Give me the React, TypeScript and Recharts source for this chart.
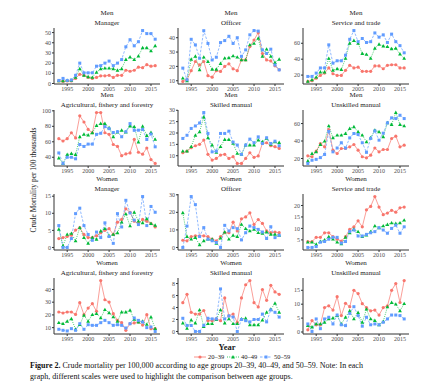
import React from "react";
import { LineChart, Line, XAxis, YAxis } from "recharts";

const years = [
  1993, 1994, 1995, 1996, 1997, 1998, 1999, 2000, 2001, 2002, 2003, 2004,
  2005, 2006, 2007, 2008, 2009, 2010, 2011, 2012, 2013, 2014, 2015, 2016,
];
const yearTicks = [1995, 2000, 2005, 2010, 2015];

// Men
const menManagerA = [2.5, 2, 2.5, 2.5, 5, 9, 8, 6, 5, 6, 7.5, 7.5, 8, 6, 8, 8, 13, 12, 13, 16, 15.5, 18.5, 17, 17.5];
const menManagerB = [2.5, 2.5, 3, 3, 6, 14.5, 8, 6.5, 6, 11, 14.5, 15, 15, 14.5, 13, 14.5, 23.5, 26, 23.5, 27, 35, 35, 32, 37];
const menManagerC = [3, 5, 3, 3.5, 8, 20, 10.5, 10.5, 10.5, 17, 17.5, 20, 22, 17.5, 20, 23.5, 36, 43, 37, 41, 52, 49, 49, 43.5];
const menManagerTicks = [0, 10, 20, 30, 40, 50];

const menOfficerA = [9.5, 10.7, 17, 23.4, 21, 23.4, 13.5, 12.5, 17, 16.5, 20, 21.8, 18.3, 17, 24.5, 24.5, 33.8, 38.4, 43.5, 29, 24.5, 23.8, 20.4, 17.6];
const menOfficerB = [11.8, 10, 25, 27, 17.6, 26.4, 23.4, 18, 18, 22, 25.7, 26, 27.3, 26.4, 24.5, 24.5, 35, 36, 39.6, 27, 32, 27, 22.7, 25];
const menOfficerC = [18.8, 10.7, 38.9, 35, 25.7, 44.9, 36, 24.5, 26.4, 36.6, 38, 41, 36, 40, 27, 31.5, 42, 45, 44.6, 31.5, 29, 32, 21, 17.6];
const menOfficerTicks = [10, 20, 30, 40];

const menServiceA = [12, 13, 16, 19.6, 22.5, 29, 21.7, 19.6, 19.6, 26, 32.3, 29, 30, 24.7, 24.7, 24.7, 31.5, 31.5, 28, 32.3, 33, 33, 29, 29];
const menServiceB = [12, 14, 17.4, 23.8, 23.8, 41, 26, 28, 27, 41, 60, 63.4, 60, 47, 46, 41, 53.6, 58.7, 56.6, 55.7, 53, 53.6, 46.4, 41];
const menServiceC = [18.3, 18.3, 22.5, 29, 29, 58, 35, 38, 38, 45, 65, 76, 62, 66, 61, 62, 73, 67.7, 70.6, 61, 71.5, 62, 57, 48];
const menServiceTicks = [20, 40, 60];

const menAgriA = [64, 61, 64, 71.7, 65, 93.5, 85.6, 76, 71.7, 97.8, 97.8, 71.7, 69.6, 56.5, 54, 42, 44.3, 45.6, 63, 46.5, 44, 52, 37, 32];
const menAgriB = [39, 32, 43.5, 44.8, 43.5, 66.5, 69.6, 68.7, 71.7, 81, 83.5, 83.5, 78, 66.5, 72.6, 74.8, 72.6, 80.4, 79.6, 59.6, 80, 68, 72, 63];
const menAgriC = [45.6, 32, 40, 40, 38, 56.5, 54, 57, 57, 69.6, 71, 79.6, 77, 72, 73, 66.5, 73, 83.5, 74.8, 75, 76, 63, 70, 53.5];
const menAgriTicks = [40, 60, 80, 100];

const menSkilledA = [11.3, 12, 13.5, 14.4, 15, 16.9, 10.6, 8.1, 8.8, 10.3, 10.6, 8.8, 9.6, 6.6, 6.6, 8.8, 11.3, 9.3, 9.9, 15.4, 15.7, 14.4, 14, 13.2];
const menSkilledB = [12, 12, 14, 19, 20.5, 27, 17.9, 14.7, 11.5, 14, 17.1, 17.1, 15.4, 11, 10.6, 14.7, 14.7, 14.7, 16.9, 16.1, 17.6, 15, 16.1, 15.8];
const menSkilledC = [17.6, 19, 22, 23.1, 24.4, 29, 19.8, 11.7, 12, 19.8, 19.8, 20.8, 16, 14.7, 10.6, 14.7, 17.3, 15.7, 18.3, 15.4, 17.9, 15.4, 16.4, 14.4];
const menSkilledTicks = [10, 15, 20, 25, 30];

const menUnskilledA = [23, 22, 28.4, 37, 33.3, 53, 29.5, 25.7, 31.4, 31.4, 33.3, 36, 29.5, 22, 20.8, 23.8, 32, 27.6, 30.3, 30.3, 42.9, 45.5, 33.3, 35.2];
const menUnskilledB = [17, 25.7, 27.6, 36, 39.8, 57.3, 43.6, 46.7, 46.7, 48.6, 54.3, 56.2, 50.5, 46.7, 39, 43.6, 52.4, 50.5, 44.8, 60.8, 58.9, 72.6, 58.9, 57.3];
const menUnskilledC = [14.3, 18, 19, 21, 24.6, 51, 27.6, 32, 38, 32, 43.6, 48.6, 47.4, 38, 27, 43, 51.6, 41, 49, 60.8, 66.5, 65.7, 69.5, 65.7];
const menUnskilledTicks = [20, 40, 60];

// Women
const womenManagerA = [2.6, 2.9, 3.2, 3.6, 5.1, 5.8, 3.8, 2.9, 2.9, 3.4, 4.3, 5, 5.5, 3.8, 7.4, 8.2, 11.3, 10.3, 7.7, 7, 8.2, 7.7, 7, 6];
const womenManagerB = [5.3, 0.5, 3.8, 4.1, 1.9, 5.8, 2.9, 1.2, 2.9, 2.4, 4.8, 5.5, 3.4, 3.8, 4.3, 7.4, 9.8, 6.3, 10.3, 7.7, 7.2, 8.4, 7, 6.5];
const womenManagerC = [6.4, 0, 0, 2.6, 9.9, 11.5, 6.4, 3.8, 2.1, 4.5, 2.9, 7.2, 3.2, 1.2, 9.9, 6, 13.8, 10.1, 8, 6.7, 14.9, 6.4, 12, 10.3];
const womenManagerTicks = [0, 5, 10, 15];

const womenOfficerA = [4.1, 3.8, 6.2, 6.6, 6.6, 6.6, 6.2, 4.7, 3.8, 6.2, 8.4, 8.4, 14.4, 9.4, 16.3, 17.4, 19.7, 13.1, 15.9, 13.7, 9.4, 8.4, 8.8, 8.4];
const womenOfficerB = [19.7, 6.2, 4.7, 5.6, 1.5, 3.8, 4.7, 4.7, 2.4, 5.3, 8.8, 4.7, 6.9, 6.2, 13.1, 10.7, 9.4, 10.3, 8.4, 8.1, 8.8, 7.5, 7.5, 6.9];
const womenOfficerC = [0, 12.2, 29, 24.4, 6.2, 11.3, 4.7, 3.8, 2.8, 0, 12.6, 9.4, 11.3, 10.7, 4.3, 8.4, 12.2, 11.3, 10.3, 8.8, 5.1, 11.8, 5.6, 6.9];
const womenOfficerTicks = [0, 10, 20, 30];

const womenServiceA = [4.3, 4.3, 6.1, 6.1, 8.1, 8.1, 6.4, 5.3, 4.5, 6.4, 9.6, 10.7, 13.3, 10.7, 18.1, 19.6, 23.9, 19.3, 16, 16.7, 17.9, 17.1, 19, 19.3];
const womenServiceB = [4, 4, 3.1, 4.3, 5, 6.4, 5.3, 4, 3.3, 6.1, 8.1, 9.6, 8.6, 6.4, 7.1, 8.6, 11.1, 10.3, 11.1, 11.7, 12.4, 12.1, 12.4, 13.6];
const womenServiceC = [1.7, 1.7, 2.1, 4, 4.3, 5.3, 6.1, 6.1, 3.6, 4.3, 8.6, 9.3, 6.7, 6.7, 7.4, 8.1, 8.6, 10.3, 9.3, 7.9, 10, 11.4, 7.9, 10.7];
const womenServiceTicks = [5, 10, 15, 20];

const womenAgriA = [22.3, 21.5, 22.3, 22.3, 20.4, 29.6, 20.2, 25.4, 28.8, 22.8, 47, 31.9, 30.1, 21, 15.7, 13.9, 7.9, 13.1, 13.7, 14.4, 12, 20.2, 9.2, 9.2];
const womenAgriB = [13.9, 13.1, 15, 17, 8.7, 12.3, 19.7, 15, 20.2, 21, 17.6, 24.1, 21.7, 18.4, 15, 22.3, 22.3, 23.6, 16.5, 14.4, 15, 12.5, 18.3, 9.2];
const womenAgriC = [8.7, 7.9, 7.4, 9.2, 7.9, 13.1, 8.7, 12.3, 11.8, 11.8, 13.9, 15.7, 13.9, 11.8, 12.3, 11.8, 9.7, 13.1, 17.6, 15.7, 14.4, 10, 10.5, 7];
const womenAgriTicks = [10, 20, 30, 40];

const womenSkilledA = [4.8, 6.2, 3.2, 2.9, 2.9, 3.5, 1.8, 1.8, 2.1, 1.8, 5.6, 2.6, 2.9, 1.5, 5.6, 7.8, 8.5, 4.8, 4.1, 7, 5.2, 7.7, 6.6, 6.2];
const womenSkilledB = [1.4, 0.5, 1.9, 1.4, 3.6, 0.8, 1.3, 1.3, 2, 3.6, 1.4, 2.1, 1.3, 1.3, 2.1, 2.2, 1.1, 1.1, 1.1, 1.9, 3.2, 3.7, 4.7, 3.2];
const womenSkilledC = [2.2, 1, 1, 0, 0, 1, 2.2, 2.1, 2.1, 7.1, 2.1, 2.6, 2.4, 0, 2, 1.8, 1.6, 2, 2, 2.9, 1.6, 3.6, 3.2, 2.4];
const womenSkilledTicks = [0, 2, 4, 6, 8];

const womenUnskilledA = [0.8, 4.1, 2.6, 2.6, 8.8, 9.4, 7.9, 12.7, 5.9, 10.3, 9.1, 15, 13.8, 10.2, 8.8, 7.6, 7.9, 6.1, 8.8, 9.4, 15, 17.4, 10.6, 18.5];
const womenUnskilledB = [2.3, 1.8, 2.9, 2.9, 3.5, 4.7, 5, 5.9, 2.9, 5.3, 7.6, 4.7, 7, 3.5, 8.2, 4.7, 4.1, 2.6, 3.8, 9, 10.6, 10, 7.6, 10.2];
const womenUnskilledC = [2.9, 0.2, 4.7, 1.2, 4.7, 5.3, 2.9, 6.1, 2.6, 2.3, 6.7, 9.1, 5.9, 2.1, 5.3, 2.6, 2.9, 2.6, 3.5, 4.7, 6.1, 6.1, 5.9, 4.7];
const womenUnskilledTicks = [0, 5, 10, 15];

const RED = "#F8766D";
const GREEN = "#00BA38";
const BLUE = "#619CFF";
const FONT = "'Liberation Serif', 'DejaVu Serif', serif";

const colLeft = [54, 178, 303];
const rowTop = [28, 110, 194, 278];
const PW = 106;
const PH = 56;
const YW = 22;
const XH = 12;
const MT = 5; // room above the plot so the top tick label isn't clipped

const circleDot = (p: any) => (
  <circle key={`c${p.index}`} cx={p.cx} cy={p.cy} r={1.6} fill={RED} />
);
const triDot = (p: any) => (
  <polygon
    key={`t${p.index}`}
    points={`${p.cx},${p.cy - 2} ${p.cx - 1.9},${p.cy + 1.4} ${p.cx + 1.9},${p.cy + 1.4}`}
    fill={GREEN}
  />
);
const squareDot = (p: any) => (
  <rect key={`s${p.index}`} x={p.cx - 1.5} y={p.cy - 1.5} width={3} height={3} fill={BLUE} />
);

interface PanelProps {
  col: number;
  row: number;
  group: string;
  title: string;
  a: number[];
  b: number[];
  c: number[];
  ticks: number[];
}

const Panel = ({ col, row, group, title, a, b, c, ticks }: PanelProps) => {
  const data = years.map((year, i) => ({ year, a: a[i], b: b[i], c: c[i] }));
  const all = [...a, ...b, ...c];
  const lo = Math.min(...all);
  const hi = Math.max(...all);
  const pad = (hi - lo) * 0.05;
  const left = colLeft[col];
  const top = rowTop[row];
  const tickStyle = { fontSize: 6, fill: "#4d4d4d", fontFamily: FONT };
  return (
    <>
      <div
        style={{
          position: "absolute",
          left: left - 10,
          width: PW + 20,
          top: top - 19,
          textAlign: "center",
          fontSize: 7,
          lineHeight: "9.5px",
          color: "#1a1a1a",
          fontFamily: FONT,
          whiteSpace: "nowrap",
        }}
      >
        {group}
        <br />
        {title}
      </div>
      <LineChart
        width={YW + PW + 3}
        height={MT + PH + XH}
        data={data}
        margin={{ top: MT, right: 3, bottom: 0, left: 0 }}
        style={{ position: "absolute", left: left - YW, top: top - MT }}
      >
        <XAxis
          dataKey="year"
          type="number"
          domain={[1991.85, 2017.15]}
          ticks={yearTicks}
          interval={0}
          height={XH}
          tick={tickStyle}
          tickSize={2}
          tickMargin={1}
          axisLine={{ stroke: "#333" }}
          tickLine={{ stroke: "#333" }}
          allowDataOverflow
        />
        <YAxis
          type="number"
          domain={[lo - pad, hi + pad]}
          ticks={ticks}
          interval={0}
          width={YW}
          tick={tickStyle}
          tickSize={2}
          tickMargin={1}
          axisLine={{ stroke: "#333" }}
          tickLine={{ stroke: "#333" }}
          allowDataOverflow
        />
        <Line dataKey="a" stroke={RED} strokeWidth={0.7} dot={circleDot} isAnimationActive={false} />
        <Line dataKey="b" stroke={GREEN} strokeWidth={0.7} strokeDasharray="1 1.2" dot={triDot} isAnimationActive={false} />
        <Line dataKey="c" stroke={BLUE} strokeWidth={0.7} strokeDasharray="2.5 1.5" dot={squareDot} isAnimationActive={false} />
      </LineChart>
    </>
  );
};

const legendItems = [
  { label: "20–39", color: RED, shape: "circle", dash: undefined },
  { label: "40–49", color: GREEN, shape: "tri", dash: "1 1.2" },
  { label: "50–59", color: BLUE, shape: "square", dash: "2.5 1.5" },
];

export default function App() {
  return (
    <div
      style={{
        position: "absolute",
        left: 0,
        top: 0,
        width: 426,
        height: 384,
        background: "#fff",
        fontFamily: FONT,
        overflow: "hidden",
      }}
    >
      <Panel col={0} row={0} group="Men" title="Manager" a={menManagerA} b={menManagerB} c={menManagerC} ticks={menManagerTicks} />
      <Panel col={1} row={0} group="Men" title="Officer" a={menOfficerA} b={menOfficerB} c={menOfficerC} ticks={menOfficerTicks} />
      <Panel col={2} row={0} group="Men" title="Service and trade" a={menServiceA} b={menServiceB} c={menServiceC} ticks={menServiceTicks} />
      <Panel col={0} row={1} group="Men" title="Agricultural, fishery and forestry" a={menAgriA} b={menAgriB} c={menAgriC} ticks={menAgriTicks} />
      <Panel col={1} row={1} group="Men" title="Skilled manual" a={menSkilledA} b={menSkilledB} c={menSkilledC} ticks={menSkilledTicks} />
      <Panel col={2} row={1} group="Men" title="Unskilled manual" a={menUnskilledA} b={menUnskilledB} c={menUnskilledC} ticks={menUnskilledTicks} />
      <Panel col={0} row={2} group="Women" title="Manager" a={womenManagerA} b={womenManagerB} c={womenManagerC} ticks={womenManagerTicks} />
      <Panel col={1} row={2} group="Women" title="Officer" a={womenOfficerA} b={womenOfficerB} c={womenOfficerC} ticks={womenOfficerTicks} />
      <Panel col={2} row={2} group="Women" title="Service and trade" a={womenServiceA} b={womenServiceB} c={womenServiceC} ticks={womenServiceTicks} />
      <Panel col={0} row={3} group="Women" title="Agricultural, fishery and forestry" a={womenAgriA} b={womenAgriB} c={womenAgriC} ticks={womenAgriTicks} />
      <Panel col={1} row={3} group="Women" title="Skilled manual" a={womenSkilledA} b={womenSkilledB} c={womenSkilledC} ticks={womenSkilledTicks} />
      <Panel col={2} row={3} group="Women" title="Unskilled manual" a={womenUnskilledA} b={womenUnskilledB} c={womenUnskilledC} ticks={womenUnskilledTicks} />

      <div
        style={{
          position: "absolute",
          left: 34 - 60,
          top: 180 - 5,
          width: 120,
          textAlign: "center",
          fontSize: 7.5,
          lineHeight: "10px",
          color: "#1a1a1a",
          transform: "rotate(-90deg)",
          whiteSpace: "nowrap",
        }}
      >
        Crude Mortality per 100 thousands
      </div>
      <div
        style={{
          position: "absolute",
          left: 202,
          top: 342,
          width: 50,
          textAlign: "center",
          fontSize: 8.5,
          fontWeight: "bold",
          color: "#1a1a1a",
          lineHeight: "10px",
        }}
      >
        Year
      </div>

      <svg width={110} height={10} style={{ position: "absolute", left: 194, top: 352 }}>
        {legendItems.map((it, i) => {
          const x = i * 33;
          return (
            <g key={it.label}>
              <line x1={x} x2={x + 12} y1={5} y2={5} stroke={it.color} strokeWidth={0.8} strokeDasharray={it.dash} />
              {it.shape === "circle" && <circle cx={x + 6} cy={5} r={1.6} fill={it.color} />}
              {it.shape === "tri" && (
                <polygon points={`${x + 6},3 ${x + 4.1},6.4 ${x + 7.9},6.4`} fill={it.color} />
              )}
              {it.shape === "square" && <rect x={x + 4.5} y={3.5} width={3} height={3} fill={it.color} />}
              <text x={x + 14} y={7.2} fontSize={6.5} fill="#1a1a1a" fontFamily={FONT}>
                {it.label}
              </text>
            </g>
          );
        })}
      </svg>

      <div
        style={{
          position: "absolute",
          left: 30,
          top: 361,
          fontSize: 8,
          lineHeight: "10.5px",
          color: "#111",
          whiteSpace: "nowrap",
        }}
      >
        <b>Figure 2.</b> Crude mortality per 100,000 according to age groups 20–39, 40–49, and 50–59. Note: In each
        <br />
        graph, different scales were used to highlight the comparison between age groups.
      </div>
    </div>
  );
}
